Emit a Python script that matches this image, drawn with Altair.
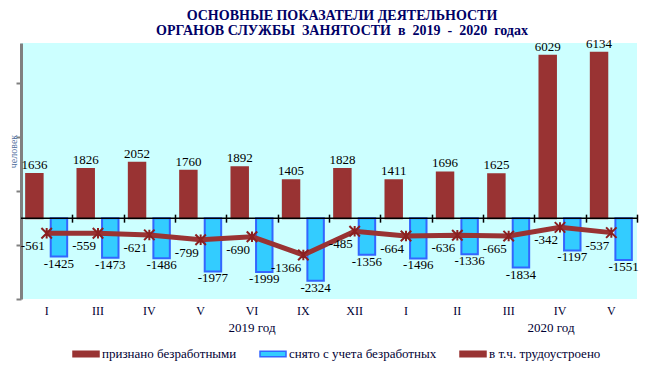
import altair as alt
import pandas as pd

# ---- data ----
months = ["I", "III", "IV", "V", "VI", "IX", "XII", "I", "II", "III", "IV", "V"]
years = ["2019"] * 7 + ["2020"] * 5
recognized = [1636, 1826, 2052, 1760, 1892, 1405, 1828, 1411, 1696, 1625, 6029, 6134]
removed = [-1425, -1473, -1486, -1977, -1999, -2324, -1356, -1496, -1336, -1834, -1197, -1551]
employed = [-561, -559, -621, -799, -690, -1366, -485, -664, -636, -665, -342, -537]

S1 = "признано безработными"
S2 = "снято с учета безработных"
S3 = "в т.ч. трудоустроено"
NB = "\u00a0"
title_lines = [
    "ОСНОВНЫЕ ПОКАЗАТЕЛИ ДЕЯТЕЛЬНОСТИ",
    f"ОРГАНОВ СЛУЖБЫ{NB} ЗАНЯТОСТИ{NB} в{NB} 2019{NB} -{NB} 2020{NB} годах",
]
y_title = "человек"
year_labels = ["2019 год", "2020 год"]

keys = [f"{y}-{m}" for y, m in zip(years, months)]

bars_df = pd.DataFrame(
    [{"key": k, "series": S1, "value": v, "label": str(v)} for k, v in zip(keys, recognized)]
    + [{"key": k, "series": S2, "value": v, "label": str(v)} for k, v in zip(keys, removed)]
)
line_df = pd.DataFrame({"key": keys, "value": employed, "label": [str(v) for v in employed]})
zero_df = pd.DataFrame({"value": [0]})

MAROON = "#993333"
BLUE_FILL = "#33CCFF"
BLUE_STROKE = "#3366FF"
BG = "#CCFFFF"
SERIF = "Liberation Serif"

W, H = 616, 256
YMIN, YMAX = -3000, 6500
zero_px = H - (0 - YMIN) / (YMAX - YMIN) * H

xscale = alt.Scale(domain=keys, paddingInner=0, paddingOuter=0)
yscale = alt.Scale(domain=[YMIN, YMAX], nice=False, zero=False)
offscale = alt.Scale(domain=[S1, S2], paddingInner=0.33, paddingOuter=0.21)

y_axis = alt.Axis(values=[-3000, -1000, 1000, 3000, 5000], labels=False, grid=False,
                  domainColor="#808080", domainWidth=3, tickColor="#808080",
                  tickWidth=2, tickSize=5, title=y_title, titleFont=SERIF,
                  titleFontSize=10, titleFontWeight="normal", titleColor="#4A6A9A",
                  titleX=-3, titleY=108, titleBaseline="bottom", titleAlign="center")

x_plain = alt.X("key:N", sort=keys, scale=xscale, axis=None)
y_enc = alt.Y("value:Q", scale=yscale, axis=y_axis, title=y_title)

legend = alt.Legend(
    title=None, orient="none", legendX=51, legendY=297, direction="horizontal",
    symbolType="M-1,-0.22H1V0.22H-1Z", symbolSize=676, symbolStrokeWidth=1.5,
    labelFont=SERIF, labelFontSize=13, labelColor="#000033", labelOffset=2,
    columnPadding=20, padding=0,
)

bars = alt.Chart(bars_df).mark_bar(strokeWidth=2).encode(
    x=alt.X("key:N", sort=keys, scale=xscale, title=None,
            axis=alt.Axis(labelExpr="split(datum.value, '-')[1]", domain=False, ticks=False,
                          labelFont=SERIF, labelFontSize=12, labelColor="#000033",
                          labelPadding=6, labelAngle=0, orient="bottom")),
    xOffset=alt.XOffset("series:N", scale=offscale),
    y=y_enc,
    fill=alt.Fill("series:N", scale=alt.Scale(domain=[S1, S2, S3], range=[MAROON, BLUE_FILL, MAROON]),
                  legend=legend),
    stroke=alt.Stroke("series:N", scale=alt.Scale(domain=[S1, S2, S3], range=[MAROON, BLUE_STROKE, MAROON]),
                      legend=legend),
)

zero_rule = alt.Chart(zero_df).mark_rule(color="black", strokeWidth=1.5).encode(y=y_enc)

line = alt.Chart(line_df).mark_line(color=MAROON, strokeWidth=5).encode(
    x=alt.X("key:N", sort=keys, scale=xscale, title=None,
            axis=alt.Axis(orient="bottom", labels=False, domain=False, ticks=True,
                          tickBand="extent", tickSize=8, tickColor="black", tickWidth=1.5,
                          offset=-(H - zero_px + 4))),
    y=y_enc,
)

pts = alt.Chart(line_df).mark_point(
    shape="M-1,-1L1,1M-1,1L1,-1M0,-1L0,1", size=110, filled=False,
    stroke="#8B2020", strokeWidth=2, opacity=1,
).encode(x=x_plain, y=y_enc)

num_font = dict(font=SERIF, fontSize=13, color="black")

t_rec = alt.Chart(bars_df).transform_filter(alt.datum.series == S1).mark_text(
    baseline="bottom", dy=-2, **num_font
).encode(x=x_plain, xOffset=alt.XOffset("series:N", scale=offscale), y=y_enc, text="label:N")

t_rem = alt.Chart(bars_df).transform_filter(alt.datum.series == S2).mark_text(
    baseline="top", dy=1, **num_font
).encode(x=x_plain, xOffset=alt.XOffset("series:N", scale=offscale), y=y_enc, text="label:N")

t_emp = alt.Chart(line_df).mark_text(
    align="right", baseline="top", dx=-2, dy=7, **num_font
).encode(x=x_plain, y=y_enc, text="label:N")

yr1 = alt.Chart(pd.DataFrame({"key": [keys[4]], "t": [year_labels[0]]})).mark_text(
    font=SERIF, fontSize=13, color="#000033", baseline="middle"
).encode(x=x_plain, y=alt.value(285), text="t:N")

yr2 = alt.Chart(pd.DataFrame({"key": [keys[10]], "t": [year_labels[1]]})).mark_text(
    font=SERIF, fontSize=13, color="#000033", baseline="middle", dx=-9
).encode(x=x_plain, y=alt.value(285), text="t:N")

chart = alt.layer(
    bars, zero_rule, line, pts, t_rec, t_rem, t_emp, yr1, yr2
).resolve_axis(x="independent").properties(
    width=W, height=H,
    autosize=alt.AutoSizeParams(type="none"),
    padding={"left": 13, "top": 35, "right": 10, "bottom": 70},
    title=alt.Title(text=title_lines, font=SERIF, fontSize=14, fontWeight="bold",
                    color="#000066", anchor="middle", frame="group", dx=13,
                    offset=0, lineHeight=15),
).configure_view(fill=BG, stroke=None)

chart.save("out.html", embed_options={"renderer": "svg", "actions": False})
